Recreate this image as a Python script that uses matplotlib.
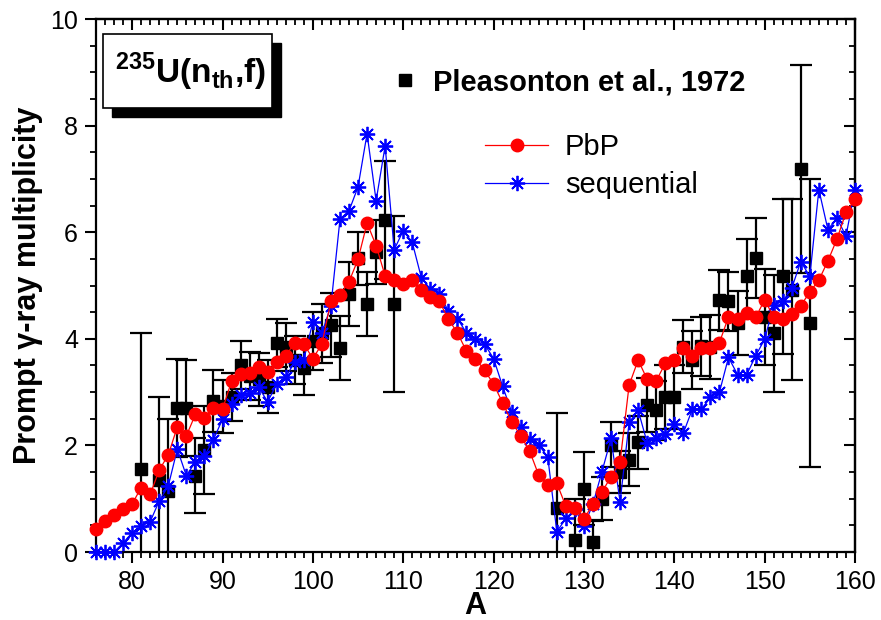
import matplotlib
matplotlib.use("Agg")
import matplotlib.pyplot as plt
from matplotlib.lines import Line2D
from matplotlib.patches import Rectangle
import numpy as np

plt.rcParams['font.family'] = ['Liberation Sans', 'DejaVu Sans']
plt.rcParams['mathtext.fontset'] = 'custom'
plt.rcParams['mathtext.rm'] = 'Liberation Sans'
plt.rcParams['mathtext.bf'] = 'Liberation Sans:bold'

# PbP calculation, A = 76..160
pbp_A = list(range(76, 161))
pbp_nu = [0.43, 0.59, 0.69, 0.80, 0.90, 1.21, 1.08, 1.54, 1.82, 2.35,
          2.18, 2.58, 2.52, 2.71, 2.68, 3.20, 3.34, 3.35, 3.48, 3.37,
          3.57, 3.68, 3.93, 3.90, 3.63, 3.90, 4.71, 4.83, 5.07, 5.49,
          6.17, 5.75, 5.18, 5.10, 5.03, 5.10, 4.91, 4.79, 4.70, 4.37,
          4.11, 3.77, 3.63, 3.41, 3.15, 2.80, 2.44, 2.18, 1.89, 1.44,
          1.26, 1.29, 0.86, 0.82, 0.62, 0.90, 1.13, 1.41, 1.69, 3.13,
          3.60, 3.24, 3.21, 3.54, 3.60, 3.82, 3.68, 3.83, 3.82, 3.93,
          4.41, 4.38, 4.49, 4.40, 4.73, 4.41, 4.37, 4.46, 4.62, 4.88,
          5.10, 5.46, 5.87, 6.37, 6.62]

# sequential calculation, A = 76..160
seq_A = list(range(76, 161))
seq_nu = [0.00, 0.00, 0.00, 0.17, 0.36, 0.48, 0.57, 0.96, 1.24, 1.93,
          1.43, 1.69, 1.80, 2.11, 2.49, 2.78, 2.95, 2.98, 3.09, 2.82,
          3.15, 3.28, 3.57, 3.61, 4.32, 4.10, 4.62, 6.24, 6.40, 6.85,
          7.85, 6.59, 7.62, 5.67, 6.03, 5.81, 5.15, 4.93, 4.84, 4.52,
          4.38, 4.11, 3.99, 3.90, 3.63, 3.11, 2.63, 2.35, 2.12, 2.01,
          1.78, 0.38, 0.63, 0.80, 0.49, 0.90, 1.51, 2.13, 0.94, 2.43,
          2.66, 2.05, 2.13, 2.21, 2.41, 2.23, 2.68, 2.68, 2.90, 3.00,
          3.65, 3.33, 3.32, 3.68, 3.99, 4.63, 4.70, 4.95, 5.45, 5.17,
          6.80, 6.05, 6.26, 5.93, 6.80]

# Pleasonton et al., 1972 (experiment)
exp_A = [81, 83, 84, 85, 86, 87, 88, 89, 90, 91, 92, 93, 94, 95, 96, 97,
         98, 99, 100, 101, 102, 103, 104, 105, 106, 107, 108, 109,
         127, 129, 130, 131, 132, 133, 134, 135, 136, 137, 138, 139, 140,
         141, 142, 143, 144, 145, 146, 147, 148, 149, 150, 151, 152, 153,
         154, 155]
exp_nu = [1.56, 1.36, 1.15, 2.71, 2.71, 1.43, 1.91, 2.83, 2.73, 2.90,
          3.50, 3.30, 3.24, 3.10, 3.93, 3.85, 3.60, 3.45, 3.96, 4.10,
          4.26, 3.82, 4.84, 5.51, 4.65, 5.63, 6.23, 4.65,
          0.82, 0.22, 1.19, 0.19, 1.00, 2.01, 1.50, 1.73, 2.06, 2.76,
          2.66, 2.91, 2.91, 3.85, 3.60, 3.86, 3.85, 4.73, 4.70, 4.29,
          5.17, 5.51, 4.41, 4.10, 5.17, 4.92, 7.18, 4.30]
exp_err = [2.55, 1.54, 1.35, 0.92, 0.90, 0.70, 0.83, 0.58, 0.50, 0.45,
           0.45, 0.45, 0.50, 0.50, 0.45, 0.45, 0.45, 0.50, 0.55, 0.55,
           0.60, 0.60, 0.60, 0.50, 0.60, 0.60, 1.10, 1.65,
           1.79, 0.78, 0.68, 0.40, 0.40, 0.42, 0.40, 0.50, 0.50, 0.50,
           0.55, 0.60, 0.60, 0.50, 0.55, 0.55, 0.60, 0.56, 0.56, 0.60,
           0.70, 0.75, 0.90, 1.10, 1.45, 1.70, 1.95, 2.70]

fig = plt.figure(figsize=(8.81, 6.20), dpi=100)
ax = fig.add_axes([96/881, 68/620, 759/881, 533/620])

ax.errorbar(exp_A, exp_nu, yerr=exp_err, fmt='s', color='black', ms=9,
            ecolor='black', elinewidth=1.6, capsize=8, capthick=1.6, zorder=2)
ax.plot(seq_A, seq_nu, '-', color='blue', lw=0.9, marker=(8, 2, 0), ms=11,
        mew=1.3, mec='blue', zorder=3, clip_on=False)
ax.plot(pbp_A, pbp_nu, '-', color='red', lw=0.9, marker='o', ms=9,
        mfc='red', mec='red', zorder=4, clip_on=False)

ax.set_xlim(76, 160)
ax.set_ylim(0, 10)
ax.set_xticks(np.arange(80, 161, 10))
ax.set_xticks(np.arange(76, 161, 1), minor=True)
ax.set_yticks(np.arange(0, 11, 2))
ax.set_yticks(np.arange(0, 10.01, 0.5), minor=True)
ax.tick_params(which='major', direction='out', length=8, width=1.5,
               labelsize=18, pad=5)
ax.tick_params(which='minor', direction='out', length=4, width=1.3)
for s in ax.spines.values():
    s.set_linewidth(1.6)

top = ax.secondary_xaxis('top')
top.set_xticks(np.arange(80, 161, 10))
top.set_xticks(np.arange(76, 161, 1), minor=True)
top.tick_params(which='major', direction='in', length=8, width=1.5, labeltop=False)
top.tick_params(which='minor', direction='in', length=4, width=1.3)
top.spines['top'].set_linewidth(1.6)
right = ax.secondary_yaxis('right')
right.set_yticks(np.arange(0, 11, 2))
right.set_yticks(np.arange(0, 10.01, 0.5), minor=True)
right.tick_params(which='major', direction='in', length=8, width=1.5, labelright=False)
right.tick_params(which='minor', direction='in', length=4, width=1.3)
right.spines['right'].set_linewidth(1.6)

ax.set_xlabel('A', fontsize=22, fontweight='bold', labelpad=-2)
ax.set_ylabel('Prompt γ-ray multiplicity', fontsize=22, fontweight='bold', labelpad=5)

# title box with shadow
ax.add_patch(Rectangle((0.021, 0.816), 0.223, 0.139, transform=ax.transAxes,
                       facecolor='black', edgecolor='black', zorder=6, clip_on=False))
ax.add_patch(Rectangle((0.0092, 0.833), 0.223, 0.139, transform=ax.transAxes,
                       facecolor='white', edgecolor='black', lw=1.2, zorder=7, clip_on=False))
ax.text(0.124, 0.9, r'$^{\mathbf{235}}$U(n$_{\mathbf{th}}$,f)', transform=ax.transAxes,
        ha='center', va='center', fontsize=24, fontweight='bold', zorder=8)

h1 = Line2D([], [], ls='none', marker='s', color='black', ms=9)
leg1 = ax.legend([h1], ['Pleasonton et al., 1972'], loc='center left',
                 bbox_to_anchor=((396 - 96) / 759, (552 - 82) / 533),
                 frameon=False, handlelength=0.6, handletextpad=0.67,
                 prop={'weight': 'bold', 'size': 21}, borderaxespad=0, borderpad=0)
ax.add_artist(leg1)
h2 = Line2D([], [], color='red', lw=0.9, marker='o', ms=9)
h3 = Line2D([], [], color='blue', lw=0.9, marker=(8, 2, 0), ms=11, mew=1.3)
leg2 = ax.legend([h2, h3], ['PbP', 'sequential'], loc='upper left',
                 bbox_to_anchor=((485 - 96) / 759, (552 - 133) / 533),
                 frameon=False, handlelength=2.16, handletextpad=0.58,
                 labelspacing=0.35, prop={'size': 21}, borderaxespad=0, borderpad=0)

fig.savefig('out.png', dpi=100)
